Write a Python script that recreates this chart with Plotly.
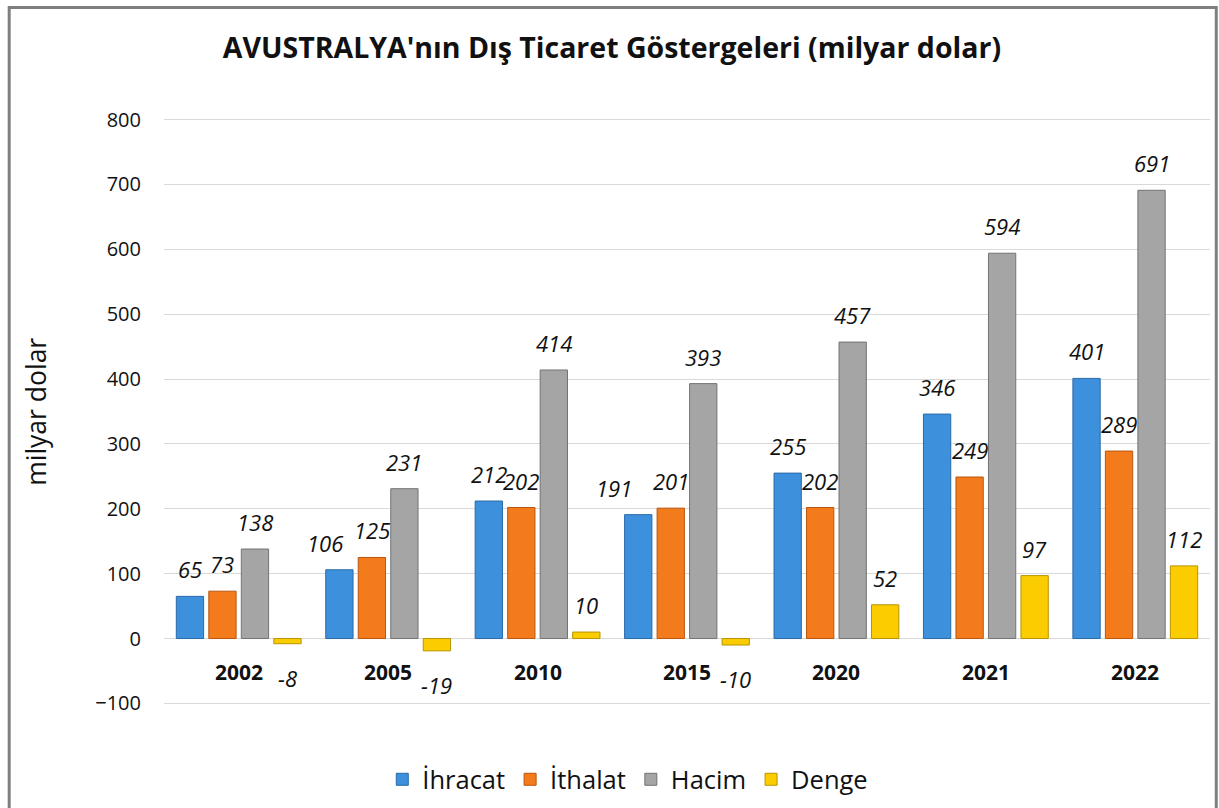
import plotly.graph_objects as go

years = ["2002", "2005", "2010", "2015", "2020", "2021", "2022"]
ihracat = [65, 106, 212, 191, 255, 346, 401]
ithalat = [73, 125, 202, 201, 202, 249, 289]
hacim = [138, 231, 414, 393, 457, 594, 691]
denge = [-8, -19, 10, -10, 52, 97, 112]

series = [
    ("İhracat", ihracat, "#3d90dc", "#2a6aa8"),
    ("İthalat", ithalat, "#f47b1c", "#b9560e"),
    ("Hacim", hacim, "#a5a5a5", "#737373"),
    ("Denge", denge, "#fbcd00", "#b89300"),
]

# label nudges (pixels) to avoid overlaps, as in the original
nudge = {("İhracat", "2005"): -14, ("İhracat", "2015"): -24}

FONT = "Open Sans"
BARGAP = 0.13
fig = go.Figure()
n = len(series)
slot = (1 - BARGAP) / n
for j, (name, vals, col, line) in enumerate(series):
    fig.add_trace(go.Bar(
        name=name, x=years, y=vals,
        marker=dict(color=col, line=dict(color=line, width=1)),
    ))
    off = (j - (n - 1) / 2) * slot
    for i, v in enumerate(vals):
        fig.add_annotation(
            x=i + off, y=v, xref="x", yref="y", text=str(v), showarrow=False,
            yanchor="middle", yshift=27 if v >= 0 else -34,
            xshift=nudge.get((name, years[i]), 0),
            font=dict(family=FONT, size=22, color="#111111", style="italic"),
        )

for i, yr in enumerate(years):
    fig.add_annotation(x=i, y=-52, xref="x", yref="y", text="<b>%s</b>" % yr,
                       showarrow=False, font=dict(family=FONT, size=21, color="#111111"))

fig.add_annotation(x=-0.123, y=0.5, xref="paper", yref="paper", text="milyar dolar",
                   textangle=-90, showarrow=False, xanchor="center", yanchor="middle",
                   font=dict(family=FONT, size=26.5, color="#111111"))

fig.add_shape(type="rect", xref="paper", yref="paper", x0=-0.148, x1=1.006, y0=-0.25, y1=1.186,
              line=dict(color="#7f7f7f", width=3), fillcolor="rgba(0,0,0,0)", layer="above")

fig.update_layout(
    width=1219, height=808,
    margin=dict(l=164, r=9, t=117, b=102),
    paper_bgcolor="white", plot_bgcolor="white",
    barmode="group", bargap=BARGAP, bargroupgap=0.16,
    title=dict(text="<b>AVUSTRALYA'nın Dış Ticaret Göstergeleri (milyar dolar)</b>",
               x=0.502, xref="container", xanchor="center", y=0.9406, yref="container",
               yanchor="middle", font=dict(family=FONT, size=28.5, color="#111111")),
    font=dict(family=FONT, color="#111111"),
    showlegend=True,
    legend=dict(orientation="h", x=0.515, xanchor="center", xref="container",
                y=0.035, yanchor="middle", yref="container",
                font=dict(family=FONT, size=25.5, color="#111111"), traceorder="normal"),
)
fig.update_xaxes(type="category", range=[-0.5, len(years) - 0.5], showticklabels=False,
                 showgrid=False, showline=False, zeroline=False, ticks="")
fig.update_yaxes(range=[-104, 804], dtick=100, tick0=0, showgrid=True, gridcolor="#d9d9d9", gridwidth=1,
                 zeroline=True, zerolinecolor="#d9d9d9", zerolinewidth=1,
                 tickfont=dict(family=FONT, size=20, color="#111111"), ticklabelstandoff=22)

fig.write_html("out.html")
